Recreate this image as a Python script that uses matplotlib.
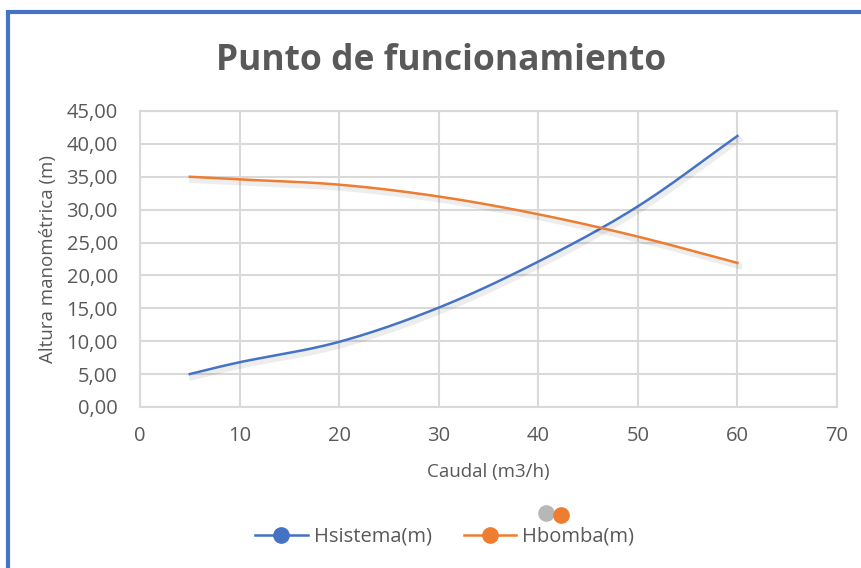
import numpy as np
import matplotlib.pyplot as plt
import matplotlib.patheffects as pe
from matplotlib.patches import Rectangle
from matplotlib.lines import Line2D

# Datos
caudal = [5, 10, 20, 30, 40, 50, 60]
h_sistema = [5.0, 6.8, 9.9, 15.1, 22.1, 30.5, 41.2]
h_bomba = [35.0, 34.6, 33.8, 32.0, 29.3, 25.9, 21.9]

x_ticks = [0, 10, 20, 30, 40, 50, 60, 70]
y_ticks = [0, 5, 10, 15, 20, 25, 30, 35, 40, 45]

gris = "#595959"
azul = "#4472C4"
naranja = "#ED7D31"


def suavizar(x, y, n=30):
    # Curva tipo "línea suavizada" de Excel (Catmull-Rom)
    x = np.asarray(x, float)
    y = np.asarray(y, float)
    px = np.concatenate([[2 * x[0] - x[1]], x, [2 * x[-1] - x[-2]]])
    py = np.concatenate([[2 * y[0] - y[1]], y, [2 * y[-1] - y[-2]]])
    xs, ys = [], []
    t = np.linspace(0, 1, n)
    for i in range(1, len(px) - 2):
        for p, out in ((px, xs), (py, ys)):
            p0, p1, p2, p3 = p[i - 1], p[i], p[i + 1], p[i + 2]
            out.extend(0.5 * (2 * p1 + (-p0 + p2) * t
                              + (2 * p0 - 5 * p1 + 4 * p2 - p3) * t ** 2
                              + (-p0 + 3 * p1 - 3 * p2 + p3) * t ** 3))
    return xs, ys


plt.rcParams['font.family'] = ['Open Sans', 'DejaVu Sans']

fig = plt.figure(figsize=(8.62, 5.68), dpi=100)
ax = fig.add_axes([0.1624, 0.2835, 0.8086, 0.5211])

sombra = [pe.SimpleLineShadow(offset=(1.5, -2.5), shadow_color="black", alpha=0.07, linewidth=4),
          pe.Normal()]

xs, ys = suavizar(caudal, h_sistema)
ax.plot(xs, ys, color=azul, lw=1.8, path_effects=sombra, label="Hsistema(m)")
xb, yb = suavizar(caudal, h_bomba)
ax.plot(xb, yb, color=naranja, lw=1.8, path_effects=sombra, label="Hbomba(m)")

ax.set_xlim(0, 70)
ax.set_ylim(0, 45)
ax.set_xticks(x_ticks)
ax.set_yticks(y_ticks)
ax.set_yticklabels([f"{v:.2f}".replace(".", ",") for v in y_ticks])
ax.grid(True, color="#D9D9D9", lw=1.5)
ax.set_axisbelow(True)
for s in ax.spines.values():
    s.set_color("#D9D9D9")
    s.set_linewidth(1.5)
ax.tick_params(length=0, labelsize=14.5, colors=gris)
ax.tick_params(axis="y", pad=16)
ax.tick_params(axis="x", pad=14)

ax.set_xlabel("Caudal (m3/h)", fontsize=13.5, color=gris, labelpad=12)
ax.set_ylabel("Altura manométrica (m)", fontsize=13.5, color=gris, labelpad=7)
fig.text(0.512, 0.893, "Punto de funcionamiento", ha="center", va="center",
         fontsize=25.5, fontweight="bold", color=gris)

# Leyenda con marcadores
handles = [Line2D([], [], color=azul, lw=1.8, marker="o", ms=11, label="Hsistema(m)"),
           Line2D([], [], color=naranja, lw=1.8, marker="o", ms=11, label="Hbomba(m)")]
fig.legend(handles=handles, loc="center", bbox_to_anchor=(0.516, 0.055), ncol=2,
           frameon=False, fontsize=14.5, labelcolor=gris, handlelength=2.6,
           columnspacing=1.6, handletextpad=0.3)

# Punto suelto que aparece en la imagen
fig.add_artist(Line2D([0.633], [0.097], transform=fig.transFigure, marker="o", ms=12,
                      color="#333333", alpha=0.35, ls="none", mec="none"))
fig.add_artist(Line2D([0.651], [0.093], transform=fig.transFigure, marker="o", ms=12,
                      color=naranja, ls="none", mec="none"))

# Marco azul del gráfico
fig.patches.append(Rectangle((0.0095, -0.05), 1.05, 1.028, transform=fig.transFigure,
                             fill=False, edgecolor=azul, lw=3))

fig.savefig("out.png", dpi=100)
